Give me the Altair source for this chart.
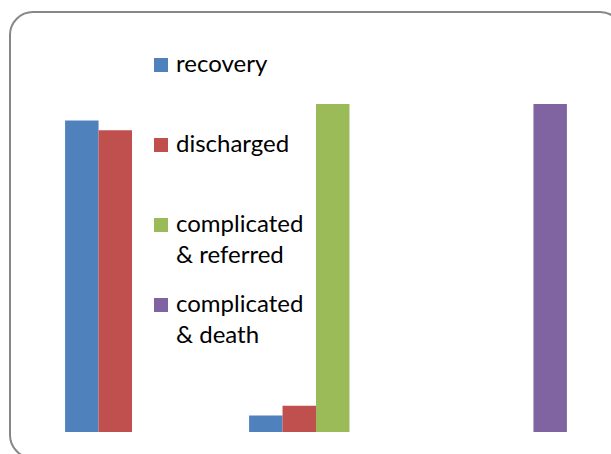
import altair as alt
import pandas as pd

# Outcome shares (%) per group, one list per outcome series
categories = ["I", "II", "III"]
series = ["recovery", "discharged", "complicated\n& referred", "complicated\n& death"]
recovery = [95, 5, 0]
discharged = [92, 8, 0]
referred = [0, 100, 0]
death = [0, 0, 100]
colors = ["#4F81BD", "#C0504D", "#9BBB59", "#8064A2"]

rows = []
for name, vals in zip(series, [recovery, discharged, referred, death]):
    for cat, v in zip(categories, vals):
        rows.append({"category": cat, "series": name, "value": v})
bars_df = pd.DataFrame(rows)

legend_df = pd.DataFrame({"series": series, "slot": list(range(len(series)))})

color_scale = alt.Scale(domain=series, range=colors)

frame = alt.Chart(pd.DataFrame({"k": [0]})).mark_rect(
    filled=False, stroke="#878787", strokeWidth=2, cornerRadius=23
).encode(
    x=alt.value(10), x2=alt.value(623), y=alt.value(12), y2=alt.value(458)
)

bars = alt.Chart(bars_df).mark_bar().encode(
    x=alt.X("category:N", sort=categories, axis=None,
            scale=alt.Scale(domain=categories, range=[40, 592],
                            paddingInner=0, paddingOuter=0)),
    xOffset=alt.XOffset("series:N", sort=series,
                        scale=alt.Scale(domain=series, paddingInner=0, paddingOuter=0.75)),
    y=alt.Y("value:Q", axis=None, scale=alt.Scale(domain=[0, 100], range=[432, 104])),
    color=alt.Color("series:N", scale=color_scale, legend=None),
)

slot_scale = alt.Scale(domain=[0, 3], range=[72, 312])

keys = alt.Chart(legend_df).mark_square(size=196, opacity=1, yOffset=-7).encode(
    x=alt.value(161),
    y=alt.Y("slot:Q", axis=None, scale=slot_scale),
    color=alt.Color("series:N", scale=color_scale, legend=None),
)

labels = alt.Chart(legend_df).mark_text(
    align="left", baseline="alphabetic", lineBreak="\n", lineHeight=31,
    font="Lato", fontSize=24, color="#000000"
).encode(
    x=alt.value(176),
    y=alt.Y("slot:Q", axis=None, scale=slot_scale),
    text="series:N",
)

chart = alt.layer(frame, bars, keys, labels).resolve_scale(y="independent").properties(
    width=611, height=454, padding=0,
    autosize=alt.AutoSizeParams(type="none"),
).configure_view(stroke=None)

chart.save("out.html", embed_options={"renderer": "svg", "actions": False})
